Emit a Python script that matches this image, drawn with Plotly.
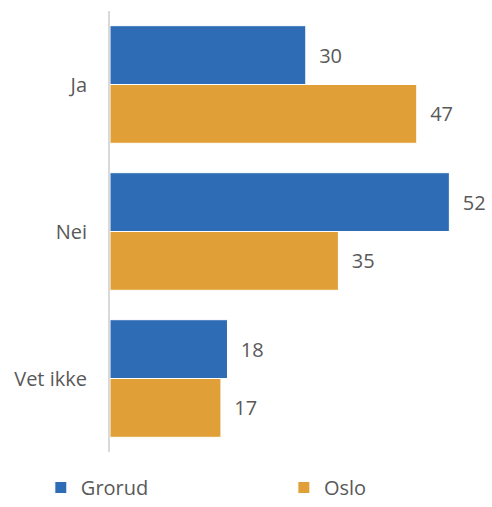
import plotly.graph_objects as go

categories = ["Ja", "Nei", "Vet ikke"]
grorud = [30, 52, 18]
oslo = [47, 35, 17]

FONT = "Open Sans"
GREY = "#595959"
FS = 20

fig = go.Figure()
fig.add_trace(go.Bar(
    y=categories, x=grorud, name="Grorud", orientation="h", legend="legend",
    marker=dict(color="#2E6DB5", line=dict(color="white", width=1)),
    text=grorud, texttemplate="  %{x}", textposition="outside",
    textfont=dict(color=GREY, size=FS, family=FONT), cliponaxis=False,
))
fig.add_trace(go.Bar(
    y=categories, x=oslo, name="Oslo", orientation="h", legend="legend2",
    marker=dict(color="#E0A037", line=dict(color="white", width=1)),
    text=oslo, texttemplate="  %{x}", textposition="outside",
    textfont=dict(color=GREY, size=FS, family=FONT), cliponaxis=False,
))

legend_common = dict(orientation="h", xref="container", yref="container",
                     y=0.0, yanchor="bottom", xanchor="left",
                     itemwidth=30, bgcolor="rgba(0,0,0,0)",
                     font=dict(size=FS, color=GREY, family=FONT))

fig.update_layout(
    width=492, height=507,
    barmode="group", bargap=0.2, bargroupgap=0,
    plot_bgcolor="white", paper_bgcolor="white",
    margin=dict(l=110, r=10, t=11, b=55, autoexpand=False),
    font=dict(family=FONT, color=GREY, size=FS),
    xaxis=dict(range=[0, 57], visible=False, showgrid=False, zeroline=False,
               automargin=False),
    yaxis=dict(autorange="reversed", showgrid=False, zeroline=False,
               showline=True, linecolor="#D9D9D9", linewidth=2,
               ticks="", ticklabelstandoff=17, automargin=False,
               tickfont=dict(size=FS, color=GREY, family=FONT)),
    showlegend=True,
    legend=dict(x=0.083, **legend_common),
    legend2=dict(x=0.577, **legend_common),
)

fig.write_html("out.html", config={"displayModeBar": False},
               post_script="document.body.style.margin='0';document.body.style.padding='0';")
